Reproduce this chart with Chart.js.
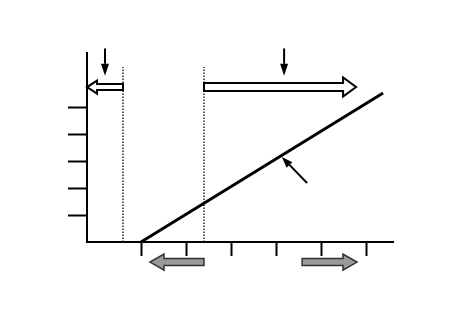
<!DOCTYPE html>
<html>
<head>
<meta charset="utf-8">
<script src="https://cdn.jsdelivr.net/npm/chart.js@4/dist/chart.umd.min.js"></script>
<style>
  html, body { margin: 0; padding: 0; background: #fff; }
  #wrap { width: 450px; height: 318px; }
</style>
</head>
<body>
<div id="wrap"><canvas id="chart"></canvas></div>
<script>
// x positions of the axis ticks, y positions of the axis ticks
const xTicks = [1, 2, 3, 4, 5, 6];
const yTicks = [1, 2, 3, 4, 5];

// the rising line
const lineX = [1, 6.38];
const lineY = [0, 5.56];

// dotted dividers
const dividerX = [0.6, 2.4];
const dividerTop = 6.53;

// hollow arrows above the plot (from, to, level)
const hollowFrom = [0.6, 2.4];
const hollowTo = [-0.2, 5.78];
const hollowY = 5.78;

// grey arrows under the x axis
const greyFrom = [2.4, 4.58];
const greyTo = [1.2, 5.8];
const greyY = -0.75;

// small down arrows
const downX = [0.2, 4.18];
const downTop = 7.22;
const downBottom = 6.2;

// pointer to the line
const pointerFrom = [4.69, 2.2];
const pointerTo = [4.13, 3.17];

function blockArrow(ctx, x1, x2, y, body, head, headLen, fill, stroke, lw) {
  const dir = x2 > x1 ? 1 : -1;
  const hb = x2 - dir * headLen;
  ctx.beginPath();
  ctx.moveTo(x1, y - body / 2);
  ctx.lineTo(hb, y - body / 2);
  ctx.lineTo(hb, y - head / 2);
  ctx.lineTo(x2, y);
  ctx.lineTo(hb, y + head / 2);
  ctx.lineTo(hb, y + body / 2);
  ctx.lineTo(x1, y + body / 2);
  ctx.closePath();
  ctx.fillStyle = fill;
  ctx.fill();
  ctx.lineWidth = lw;
  ctx.strokeStyle = stroke;
  ctx.lineJoin = 'miter';
  ctx.stroke();
}

function lineArrow(ctx, x1, y1, x2, y2, headLen, headW) {
  const a = Math.atan2(y2 - y1, x2 - x1);
  const bx = x2 - Math.cos(a) * headLen, by = y2 - Math.sin(a) * headLen;
  ctx.beginPath();
  ctx.moveTo(x1, y1);
  ctx.lineTo(bx, by);
  ctx.lineWidth = 2;
  ctx.strokeStyle = '#000';
  ctx.stroke();
  ctx.beginPath();
  ctx.moveTo(x2, y2);
  ctx.lineTo(bx + Math.sin(a) * headW / 2, by - Math.cos(a) * headW / 2);
  ctx.lineTo(bx - Math.sin(a) * headW / 2, by + Math.cos(a) * headW / 2);
  ctx.closePath();
  ctx.fillStyle = '#000';
  ctx.fill();
}

const arrowPlugin = {
  id: 'arrows',
  afterDatasetsDraw(chart) {
    const ctx = chart.ctx;
    const xs = chart.scales.x, ys = chart.scales.y;
    ctx.save();
    hollowFrom.forEach((f, i) => {
      const big = i === 1;
      blockArrow(ctx, xs.getPixelForValue(f), xs.getPixelForValue(hollowTo[i]), ys.getPixelForValue(hollowY),
        big ? 8 : 6, big ? 19 : 13, big ? 13 : 10, '#fff', '#000', 2);
    });
    greyFrom.forEach((f, i) => {
      blockArrow(ctx, xs.getPixelForValue(f), xs.getPixelForValue(greyTo[i]), ys.getPixelForValue(greyY),
        7, 16, 14, '#9a9a9a', '#333', 1.5);
    });
    downX.forEach(x => {
      const px = xs.getPixelForValue(x);
      lineArrow(ctx, px, ys.getPixelForValue(downTop), px, ys.getPixelForValue(downBottom), 12, 8);
    });
    lineArrow(ctx, xs.getPixelForValue(pointerFrom[0]), ys.getPixelForValue(pointerFrom[1]),
      xs.getPixelForValue(pointerTo[0]), ys.getPixelForValue(pointerTo[1]), 11, 8);
    ctx.restore();
  }
};

const datasets = [{
  data: lineX.map((x, i) => ({ x: x, y: lineY[i] })),
  borderColor: '#000',
  borderWidth: 3,
  pointRadius: 0,
  clip: false
}];
dividerX.forEach(x => {
  datasets.push({
    data: [{ x: x, y: 0 }, { x: x, y: dividerTop }],
    borderColor: '#222',
    borderWidth: 1.5,
    borderDash: [1.5, 1.5],
    pointRadius: 0,
    clip: false
  });
});

new Chart(document.getElementById('chart'), {
  type: 'line',
  data: { datasets: datasets },
  options: {
    responsive: true,
    maintainAspectRatio: false,
    animation: false,
    layout: { padding: { left: 68, right: 57, top: 53, bottom: 62 } },
    plugins: { legend: { display: false }, tooltip: { enabled: false } },
    scales: {
      x: {
        type: 'linear',
        min: -0.2,
        max: 6.6,
        afterBuildTicks: s => { s.ticks = xTicks.map(v => ({ value: v })); },
        ticks: { display: false },
        grid: { drawOnChartArea: false, drawTicks: true, tickLength: 14, tickWidth: 2, tickColor: '#000' },
        border: { display: true, color: '#000', width: 2 }
      },
      y: {
        type: 'linear',
        min: 0,
        max: 7.05,
        afterBuildTicks: s => { s.ticks = yTicks.map(v => ({ value: v })); },
        ticks: { display: false },
        grid: { drawOnChartArea: false, drawTicks: true, tickLength: 19, tickWidth: 2, tickColor: '#000' },
        border: { display: true, color: '#000', width: 2 }
      }
    }
  },
  plugins: [arrowPlugin]
});
</script>
</body>
</html>
